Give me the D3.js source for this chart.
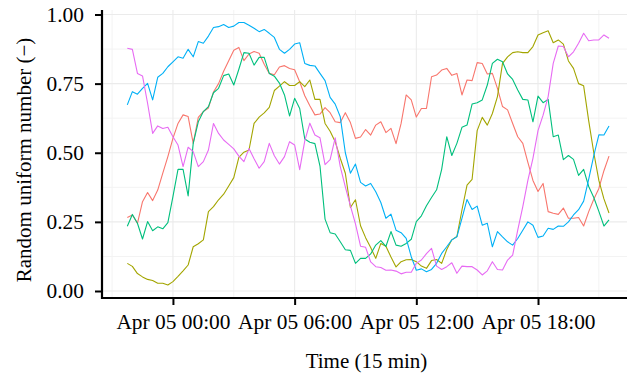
<!DOCTYPE html>
<html>
<head>
<meta charset="utf-8">
<script src="https://cdn.jsdelivr.net/npm/d3@7"></script>
<style>
  html, body { margin: 0; padding: 0; background: #ffffff; }
  svg { display: block; }
  text { font-family: "Liberation Serif", "DejaVu Serif", serif; fill: #000; }
</style>
</head>
<body>
<svg id="chart" width="627" height="373"></svg>
<script>
// Five random-uniform series sampled every 15 minutes, Apr 04 21:45 → Apr 05 21:30
const seriesNames = ["a", "b", "c", "d", "e"];
const seriesColors = ["#F8766D", "#A3A500", "#00BF7D", "#00B0F6", "#E76BF3"];

const serieA = [0.266,0.275,0.245,0.323,0.356,0.327,0.365,0.426,0.486,0.552,0.606,0.637,0.631,0.534,0.628,0.649,0.662,0.720,0.750,0.795,0.833,0.871,0.881,0.833,0.857,0.866,0.860,0.820,0.787,0.782,0.810,0.815,0.805,0.800,0.757,0.706,0.670,0.637,0.640,0.663,0.645,0.612,0.609,0.645,0.609,0.552,0.557,0.584,0.564,0.600,0.612,0.573,0.588,0.533,0.606,0.709,0.691,0.629,0.660,0.660,0.775,0.781,0.799,0.805,0.780,0.787,0.709,0.763,0.761,0.826,0.823,0.785,0.787,0.733,0.667,0.655,0.606,0.558,0.534,0.465,0.400,0.360,0.389,0.287,0.281,0.277,0.300,0.263,0.263,0.266,0.235,0.287,0.332,0.371,0.435,0.488];
const serieB = [0.100,0.089,0.063,0.051,0.042,0.038,0.028,0.028,0.022,0.034,0.053,0.073,0.094,0.160,0.171,0.185,0.287,0.305,0.330,0.350,0.380,0.410,0.483,0.502,0.510,0.606,0.629,0.644,0.664,0.725,0.741,0.757,0.743,0.743,0.757,0.739,0.763,0.693,0.693,0.606,0.578,0.540,0.480,0.426,0.302,0.330,0.236,0.193,0.157,0.118,0.172,0.162,0.123,0.087,0.106,0.113,0.114,0.106,0.090,0.082,0.110,0.114,0.100,0.150,0.185,0.197,0.293,0.383,0.404,0.580,0.628,0.600,0.642,0.703,0.823,0.847,0.862,0.865,0.862,0.862,0.884,0.926,0.934,0.941,0.898,0.908,0.893,0.832,0.805,0.750,0.742,0.615,0.500,0.400,0.333,0.282];
const serieC = [0.234,0.277,0.245,0.188,0.251,0.218,0.232,0.225,0.247,0.341,0.440,0.440,0.344,0.534,0.612,0.649,0.667,0.717,0.733,0.779,0.785,0.745,0.802,0.862,0.860,0.817,0.845,0.845,0.787,0.777,0.752,0.709,0.633,0.697,0.660,0.550,0.538,0.533,0.452,0.260,0.211,0.206,0.178,0.149,0.147,0.100,0.118,0.118,0.134,0.166,0.182,0.161,0.215,0.166,0.162,0.172,0.187,0.251,0.272,0.308,0.338,0.366,0.440,0.558,0.490,0.534,0.592,0.600,0.676,0.681,0.691,0.745,0.823,0.838,0.829,0.785,0.765,0.727,0.693,0.691,0.612,0.705,0.681,0.693,0.558,0.564,0.475,0.490,0.476,0.418,0.440,0.378,0.338,0.288,0.235,0.257];
const serieD = [0.673,0.721,0.712,0.733,0.751,0.691,0.773,0.787,0.811,0.829,0.847,0.842,0.874,0.847,0.902,0.896,0.922,0.953,0.956,0.964,0.953,0.958,0.971,0.971,0.961,0.950,0.938,0.946,0.932,0.917,0.874,0.860,0.874,0.893,0.898,0.823,0.816,0.814,0.787,0.761,0.700,0.676,0.630,0.500,0.426,0.459,0.393,0.380,0.389,0.359,0.320,0.263,0.278,0.220,0.211,0.190,0.124,0.075,0.080,0.070,0.078,0.100,0.136,0.160,0.185,0.196,0.263,0.331,0.295,0.307,0.238,0.245,0.160,0.215,0.196,0.178,0.166,0.190,0.220,0.250,0.238,0.194,0.199,0.227,0.223,0.235,0.234,0.250,0.275,0.294,0.325,0.405,0.490,0.565,0.564,0.597];
const serieE = [0.878,0.874,0.787,0.778,0.679,0.570,0.597,0.588,0.592,0.558,0.528,0.450,0.520,0.504,0.450,0.468,0.510,0.606,0.570,0.546,0.530,0.514,0.488,0.468,0.515,0.478,0.444,0.468,0.534,0.489,0.459,0.486,0.540,0.528,0.439,0.543,0.607,0.564,0.554,0.457,0.475,0.554,0.450,0.377,0.308,0.243,0.162,0.158,0.105,0.088,0.085,0.075,0.076,0.072,0.062,0.068,0.068,0.100,0.112,0.135,0.154,0.090,0.078,0.088,0.102,0.064,0.090,0.088,0.088,0.076,0.058,0.073,0.106,0.078,0.076,0.112,0.130,0.220,0.305,0.400,0.480,0.580,0.636,0.703,0.823,0.886,0.884,0.847,0.865,0.896,0.932,0.905,0.908,0.908,0.926,0.914];

const seriesValues = [serieA, serieB, serieC, serieD, serieE];

const yTicks = [0, 0.25, 0.5, 0.75, 1];
const yTickLabels = ["0.00", "0.25", "0.50", "0.75", "1.00"];
const xTickLabels = ["Apr 05 00:00", "Apr 05 06:00", "Apr 05 12:00", "Apr 05 18:00"];

const xTitle = "Time (15 min)";
const yTitle = "Random uniform number (\u2212)";

// time stamps: 15-minute steps
const tStart = new Date(Date.UTC(2024, 3, 4, 21, 45));
const times = d3.range(serieA.length).map(i => d3.utcMinute.offset(tStart, 15 * i));
const xTickDates = [0, 6, 12, 18].map(h => new Date(Date.UTC(2024, 3, 5, h, 0)));

const svg = d3.select("#chart");

// panel geometry
const panel = { left: 102, right: 627, top: 10, bottom: 298 };

const x = d3.scaleUtc()
  .domain([times[0], times[times.length - 1]])
  .range([127.3, 609]);
const y = d3.scaleLinear().domain([0, 1]).range([291, 14.5]);

// minor grid (halfway between major ticks)
const minorY = d3.range(0.125, 1.0, 0.25);
const minorX = [-1, 1, 3, 5, 7].map(k => new Date(Date.UTC(2024, 3, 5, 3 * k, 0)));

const grid = svg.append("g");
grid.selectAll("line.minor-y").data(minorY).enter().append("line")
  .attr("x1", panel.left).attr("x2", panel.right)
  .attr("y1", d => y(d)).attr("y2", d => y(d))
  .attr("stroke", "#F3F3F3").attr("stroke-width", 1);
grid.selectAll("line.minor-x").data(minorX).enter().append("line")
  .attr("x1", d => x(d)).attr("x2", d => x(d))
  .attr("y1", panel.top).attr("y2", panel.bottom)
  .attr("stroke", "#F3F3F3").attr("stroke-width", 1);
grid.selectAll("line.major-y").data(yTicks).enter().append("line")
  .attr("x1", panel.left).attr("x2", panel.right)
  .attr("y1", d => y(d)).attr("y2", d => y(d))
  .attr("stroke", "#EBEBEB").attr("stroke-width", 1.1);
grid.selectAll("line.major-x").data(xTickDates).enter().append("line")
  .attr("x1", d => x(d)).attr("x2", d => x(d))
  .attr("y1", panel.top).attr("y2", panel.bottom)
  .attr("stroke", "#EBEBEB").attr("stroke-width", 1.1);

// series lines
const line = d3.line()
  .x((d, i) => x(times[i]))
  .y(d => y(d));

svg.append("g").selectAll("path").data(seriesValues).enter().append("path")
  .attr("d", d => line(d))
  .attr("fill", "none")
  .attr("stroke", (d, i) => seriesColors[i])
  .attr("stroke-width", 1.1)
  .attr("stroke-linejoin", "round");

// axes
const xAxis = d3.axisBottom(x)
  .tickValues(xTickDates)
  .tickFormat((d, i) => xTickLabels[i])
  .tickSize(7).tickPadding(9);
const gx = svg.append("g").attr("transform", `translate(0,${panel.bottom})`).call(xAxis);
gx.select(".domain").remove();
gx.selectAll(".tick line").attr("stroke", "#000").attr("stroke-width", 2);
gx.selectAll(".tick text").attr("font-size", 21.4).attr("font-family", "Liberation Serif").attr("fill", "#000");

const yAxis = d3.axisLeft(y)
  .tickValues(yTicks)
  .tickFormat((d, i) => yTickLabels[i])
  .tickSize(7).tickPadding(11);
const gy = svg.append("g").attr("transform", `translate(${panel.left},0)`).call(yAxis);
gy.select(".domain").remove();
gy.selectAll(".tick line").attr("stroke", "#000").attr("stroke-width", 2);
gy.selectAll(".tick text").attr("font-size", 21.4).attr("font-family", "Liberation Serif").attr("fill", "#000");

// axis lines
svg.append("line")
  .attr("x1", panel.left - 1).attr("x2", panel.right)
  .attr("y1", panel.bottom).attr("y2", panel.bottom)
  .attr("stroke", "#000").attr("stroke-width", 2.2);
svg.append("line")
  .attr("x1", panel.left).attr("x2", panel.left)
  .attr("y1", panel.top).attr("y2", panel.bottom + 1)
  .attr("stroke", "#000").attr("stroke-width", 2.2);

// titles
svg.append("text")
  .attr("x", 366.5).attr("y", 368)
  .attr("text-anchor", "middle").attr("font-size", 21)
  .text(xTitle);
svg.append("text")
  .attr("transform", `translate(31,160) rotate(-90)`)
  .attr("text-anchor", "middle").attr("font-size", 21)
  .text(yTitle);
</script>
</body>
</html>
